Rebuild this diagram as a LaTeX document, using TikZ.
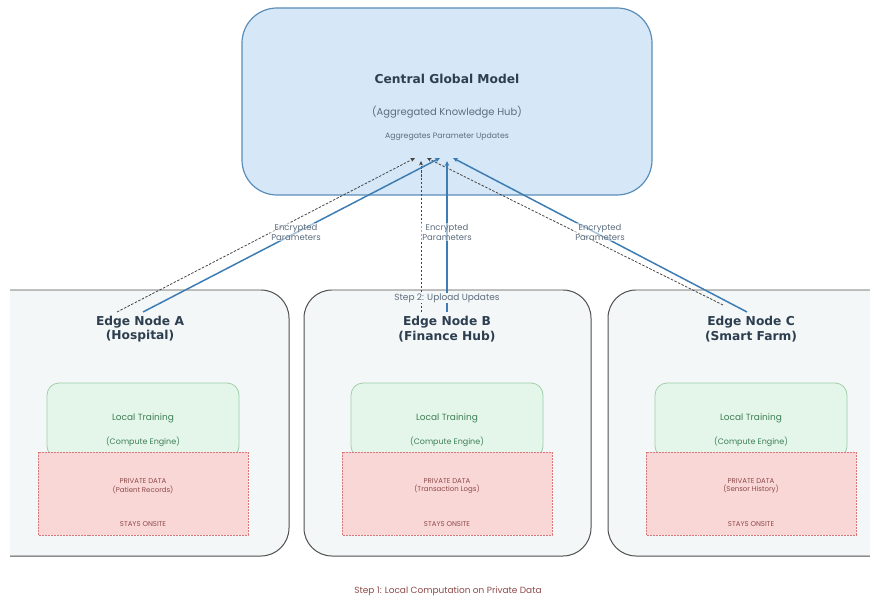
\documentclass[tikz,border=0pt]{standalone}
\usepackage{fontspec}
\setmainfont{Poppins}
\newfontfamily\headfont{DejaVu Sans}
\usetikzlibrary{arrows.meta}

\definecolor{hubfill}{HTML}{D6E8F7}
\definecolor{hubline}{HTML}{5A8DB8}
\definecolor{edgefill}{HTML}{F4F7F7}
\definecolor{edgeline}{HTML}{4F4F4F}
\definecolor{trainfill}{HTML}{E4F5EA}
\definecolor{trainline}{HTML}{9DCFAB}
\definecolor{traintext}{HTML}{3E7F55}
\definecolor{datafill}{HTML}{F9D7D6}
\definecolor{dataline}{HTML}{D9787A}
\definecolor{datatext}{HTML}{8E4A4A}
\definecolor{headtext}{HTML}{2C3E50}
\definecolor{notetext}{HTML}{5D6D7E}
\definecolor{flowblue}{HTML}{3D7DB3}
\definecolor{flowgray}{HTML}{444444}

\tikzset{
  x=1bp, y=-1bp,
  hubbox/.style={draw=hubline, line width=1.2pt, fill=hubfill, rounded corners=35bp},
  edgebox/.style={draw=edgeline, line width=1pt, fill=edgefill, rounded corners=28bp},
  trainbox/.style={draw=trainline, line width=0.8pt, fill=trainfill, rounded corners=12bp},
  databox/.style={draw=dataline, line width=0.8pt, fill=datafill, dash pattern=on 2pt off 1pt},
  headlabel/.style={font=\headfont\bfseries\fontsize{12.3}{14.5}\selectfont, text=headtext, align=center, inner sep=0pt},
  trainlabel/.style={font=\fontsize{9}{10}\selectfont, text=traintext, inner sep=0pt},
  enginelabel/.style={font=\fontsize{8}{9}\selectfont, text=traintext, inner sep=0pt},
  datalabel/.style={font=\fontsize{7}{8.5}\selectfont, text=datatext, align=center, inner sep=0pt},
  notelabel/.style={font=\fontsize{8.5}{10}\selectfont, text=notetext, align=center, inner sep=1pt},
  sendsolid/.style={draw=flowblue, line width=1.5pt, -{Stealth[length=5pt,width=4.5pt]}},
  senddashed/.style={draw=flowgray, line width=0.8pt, dash pattern=on 2.5pt off 1.5pt, -{Stealth[length=4.5pt,width=4pt]}},
}

\begin{document}
\begin{tikzpicture}
\useasboundingbox (0,0) rectangle (870,600);
\clip (0,0) rectangle (870,600);

% central aggregation server
\draw[hubbox] (242,8) rectangle (652,195);
\node[headlabel] (hubtitle) at (447,79) {Central Global Model};
\node[font=\fontsize{10}{12}\selectfont, text=notetext, inner sep=0pt] (hubsub) at (447,112) {(Aggregated Knowledge Hub)};
\node[font=\fontsize{7.8}{9}\selectfont, text=notetext, inner sep=0pt] (hubnote) at (447,137) {Aggregates Parameter Updates};

% edge clients
\begin{scope}
  \clip (10,0) rectangle (870,600);
  \draw[edgebox] (-25,290) rectangle (289,556);
\end{scope}
\draw[edgebox] (304,290) rectangle (591,556);
\draw[edgebox] (608,290) rectangle (905,556);

% local training and private data blocks
\foreach \cx/\rec [count=\i] in {143/Patient Records, 447/Transaction Logs, 751/Sensor History}{
  \draw[trainbox] (\cx-96,383) rectangle (\cx+96,458);
  \draw[databox] (\cx-105,452) rectangle (\cx+105,535);
  \node[trainlabel] (train\i) at (\cx,418) {Local Training};
  \node[enginelabel] (engine\i) at (\cx,442) {(Compute Engine)};
  \node[datalabel] (data\i) at (\cx,486) {PRIVATE DATA\\(\rec)};
  \node[datalabel] (onsite\i) at (\cx,524) {STAYS ONSITE};
}

\node[headlabel] (titleA) at (140,329) {Edge Node A\\(Hospital)};
\node[headlabel] (titleB) at (447,329) {Edge Node B\\(Finance Hub)};
\node[headlabel] (titleC) at (751,329) {Edge Node C\\(Smart Farm)};

% upload paths
\coordinate (aD) at (117,312);  \coordinate (aS) at (143,312);
\coordinate (bD) at (421,312);  \coordinate (bS) at (447,312);
\coordinate (cD) at (723,305);  \coordinate (cS) at (747,312);
\coordinate (hAD) at (415,158); \coordinate (hAS) at (440,158);
\coordinate (hBD) at (421,161); \coordinate (hBS) at (447,161);
\coordinate (hCD) at (427,158); \coordinate (hCS) at (453,158);

\draw[senddashed] (aD) -- (hAD);
\draw[senddashed] (bD) -- (hBD);
\draw[senddashed] (cD) -- (hCD);
\draw[sendsolid] (aS) -- (hAS);
\draw[sendsolid] (bS) -- (hBS);
\draw[sendsolid] (cS) -- (hCS);

\node[notelabel, fill=white, fill opacity=0.55, text opacity=1] (encA) at (296,232) {Encrypted\\Parameters};
\node[notelabel, fill=white, fill opacity=0.55, text opacity=1] (encB) at (447,232) {Encrypted\\Parameters};
\node[notelabel, fill=white, fill opacity=0.55, text opacity=1] (encC) at (600,232) {Encrypted\\Parameters};

\node[notelabel, fill=edgefill, font=\fontsize{9}{10}\selectfont] (step2) at (447,298) {Step 2: Upload Updates};
\node[notelabel, text=datatext, font=\fontsize{9}{10}\selectfont] (step1) at (448,591) {Step 1: Local Computation on Private Data};
\end{tikzpicture}
\end{document}
